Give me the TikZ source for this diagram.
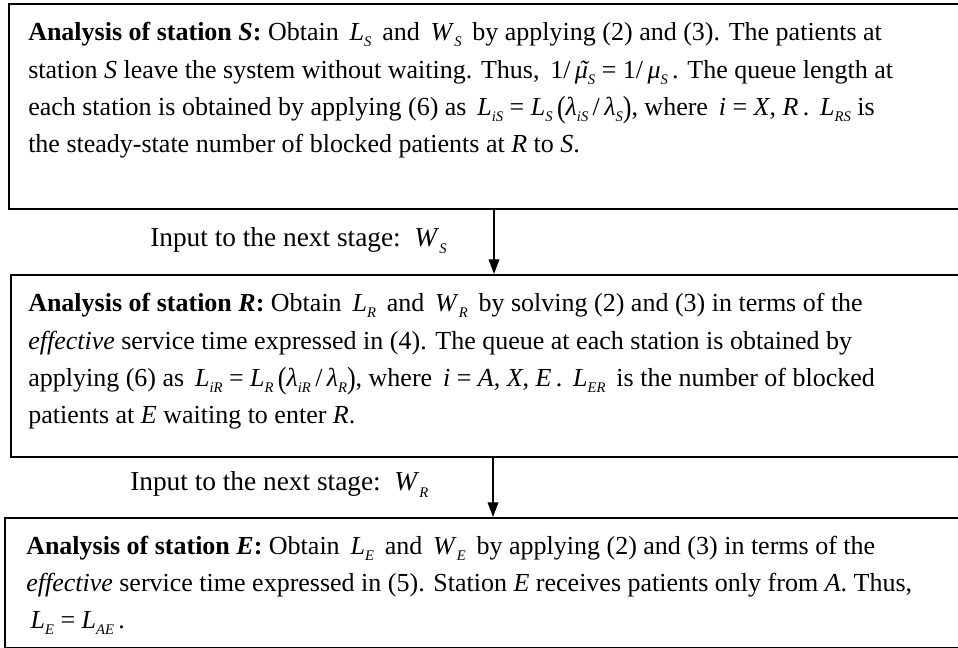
\documentclass[tikz,border=0pt]{standalone}
\usepackage{fontspec}
\setmainfont{Liberation Serif}
\usetikzlibrary{arrows.meta,positioning}
% quantity with a lowered italic index
\newcommand{\qv}[2]{\textit{#1}\raisebox{-0.5ex}{\fontsize{11}{11}\selectfont\textit{#2}}}
% mu with a tilde
\newcommand{\tmu}{\textit{\ooalign{μ\cr\hidewidth\kern0.15em˜\hidewidth\cr}}}
% slightly tall parenthesis
\newcommand{\tp}[1]{\raisebox{-0.12ex}{\scalebox{1}[1.18]{#1}}}
\tikzset{
  stagebox/.style={draw, line width=1.5pt, rectangle, anchor=north west, inner sep=0pt, minimum width=720pt},
  stagetext/.style={anchor=base west, align=left, inner sep=0pt, font=\fontsize{19.5}{28}\selectfont},
  inputtext/.style={anchor=base west, inner sep=0pt, font=\fontsize{20.5}{28}\selectfont},
  flow/.style={line width=1pt, -{Triangle[length=11pt, width=8pt]}}
}

\begin{document}
\begin{tikzpicture}[x=0.75pt, y=-0.75pt]
\useasboundingbox (0,0) rectangle (958,648);
\clip (0,0) rectangle (958,648);
% Boxes
\node[stagebox, minimum height=153.75pt] (sBox) at (8,3) {};
\node[stagebox, minimum height=136.5pt] (rBox) at (10,274) {};
\node[stagebox, minimum height=97.5pt] (eBox) at (4,517) {};
% Station S (anchored at the baseline of its last line)
\node[stagetext] (sText) at (28,153) {%
\textbf{Analysis of station \textit{S}:} Obtain \,\qv{L}{S}\, and \,\qv{W}{S}\, by applying (2) and (3). The patients at\\
station \textit{S} leave the system without waiting. Thus, \,1/\,\tmu\raisebox{-0.5ex}{\fontsize{11}{11}\selectfont\textit{S}} = 1/\,\qv{μ}{S}\,. The queue length at\\
each station is obtained by applying (6) as \,\qv{L}{iS} = \qv{L}{S}\,\tp{(}\qv{λ}{iS}\,/\,\qv{λ}{S}\tp{)}, where \,\textit{i} = \textit{X}, \textit{R}\,. \,\qv{L}{RS} is\\
the steady-state number of blocked patients at \textit{R} to \textit{S}.};
% Station R
\node[stagetext] (rText) at (28,424) {%
\textbf{Analysis of station \textit{R}:} Obtain \,\qv{L}{R}\, and \,\qv{W}{R}\, by solving (2) and (3) in terms of the\\
\textit{effective} service time expressed in (4). The queue at each station is obtained by\\
applying (6) as \,\qv{L}{iR} = \qv{L}{R}\,\tp{(}\qv{λ}{iR}\,/\,\qv{λ}{R}\tp{)}, where \,\textit{i} = \textit{A}, \textit{X}, \textit{E}\,. \,\qv{L}{ER}\, is the number of blocked\\
patients at \textit{E} waiting to enter \textit{R}.};
% Station E
\node[stagetext] (eText) at (26,629) {%
\textbf{Analysis of station \textit{E}:} Obtain \,\qv{L}{E}\, and \,\qv{W}{E}\, by applying (2) and (3) in terms of the\\
\textit{effective} service time expressed in (5). Station \textit{E} receives patients only from \textit{A}. Thus,\\
\,\qv{L}{E} = \qv{L}{AE}\,.};
% Inputs between stages
\node[inputtext] (inS) at (150,247) {Input to the next stage: \,\qv{W}{S}};
\node[inputtext] (inR) at (130,491) {Input to the next stage: \,\qv{W}{R}};
\coordinate (a1) at (494,0);
\coordinate (a2) at (493,0);
\draw[flow] (sBox.south -| a1) -- (rBox.north -| a1);
\draw[flow] (rBox.south -| a2) -- (eBox.north -| a2);
\end{tikzpicture}
\end{document}
